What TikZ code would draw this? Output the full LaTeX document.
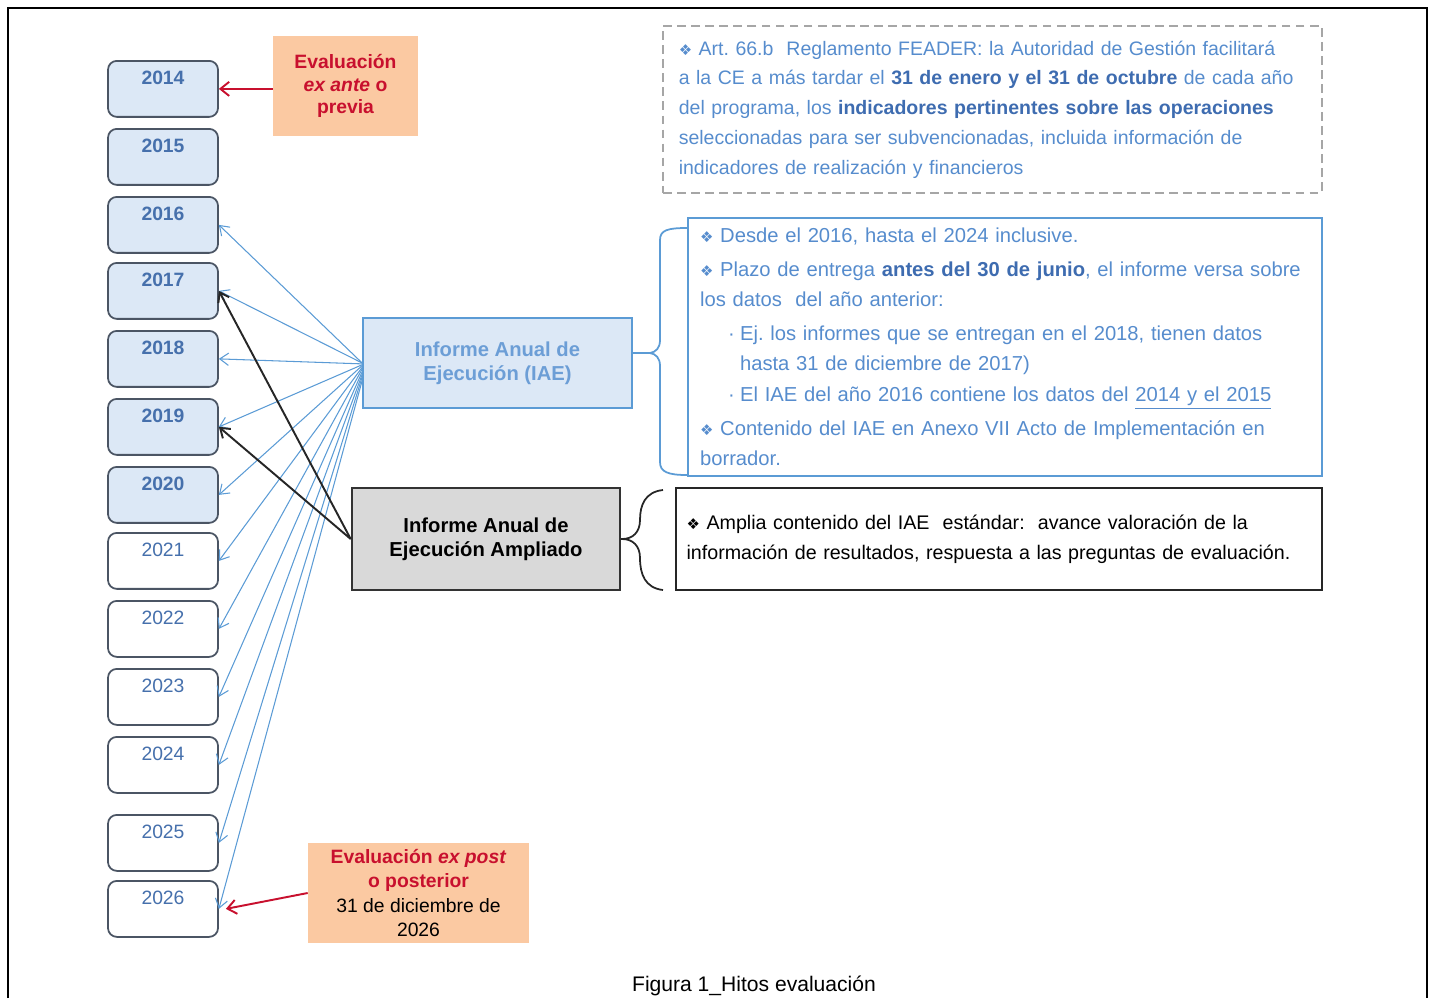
\documentclass[tikz,border=0pt]{standalone}
\usepackage{fontspec}
\setmainfont{Liberation Sans}
\newfontfamily\symfont{DejaVu Sans}
\usepackage{tikz}
\usetikzlibrary{arrows.meta, calc}
\definecolor{hitoFill}{RGB}{220,232,246}
\definecolor{hitoDraw}{RGB}{75,85,100}
\definecolor{hitoText}{RGB}{70,112,172}
\definecolor{iaeBlue}{RGB}{91,155,213}
\definecolor{iaeText}{RGB}{108,158,214}
\definecolor{notaBlue}{RGB}{86,140,205}
\definecolor{notaBold}{RGB}{62,108,176}
\definecolor{evalFill}{RGB}{251,201,162}
\definecolor{evalRed}{RGB}{200,16,46}
\definecolor{ampFill}{RGB}{217,217,217}
\newcommand{\diam}{{\symfont\fontsize{8.5}{8.5}\selectfont\char"2756}}
\frenchspacing

\begin{document}
\begin{tikzpicture}[x=0.02cm, y=-0.02cm,
  every node/.style={inner sep=0pt, font=\fontsize{11.5}{17}\selectfont},
  hito/.style={draw=hitoDraw, line width=1pt, rounded corners=5pt, anchor=north,
    minimum width=2.2cm, text height=0.48cm, text depth=0.64cm, text=hitoText},
  hitoOn/.style={fill=hitoFill, font=\fontsize{11}{13}\selectfont\bfseries},
  evalbox/.style={fill=evalFill, minimum width=2.9cm, minimum height=2cm, align=center,
    text=evalRed, font=\fontsize{11}{12.6}\selectfont\bfseries},
  nota/.style={align=left, inner xsep=0.24cm, text=notaBlue},
  toHito/.style={draw=iaeBlue, line width=0.6pt, -{Straight Barb[length=5pt, width=7pt]}},
  toAmp/.style={draw=black!85, line width=1.1pt, -{Straight Barb[length=5pt, width=7pt]}},
  toEval/.style={draw=evalRed, line width=1.1pt, -{Straight Barb[length=5pt, width=8pt]}}]
  \useasboundingbox (0,0) rectangle (1430,998);
  \draw[line width=1.5pt] (8,998) -- (8,8) -- (1427,8) -- (1427,998);

  % years
  \foreach \yr/\ytop in {2014/60, 2015/128, 2016/196, 2017/262, 2018/330, 2019/398, 2020/466}
    \node[hito, hitoOn] (y\yr) at (163,\ytop) {\yr};
  \foreach \yr/\ytop in {2021/532, 2022/600, 2023/668, 2024/736, 2025/814, 2026/880}
    \node[hito, font=\fontsize{11}{13}\selectfont] (y\yr) at (163,\ytop) {\yr};

  \node[evalbox] (exante) at (345.5,86) {Evaluación\\\textit{ex ante} o\\previa};
  \node[evalbox, minimum width=4.42cm, font=\fontsize{11}{13.7}\selectfont] (expost) at (418.5,893)
    {\textbf{Evaluación \textit{ex post}}\\\textbf{o posterior}\\\textcolor{black}{31 de diciembre de}\\\textcolor{black}{2026}};

  \node[draw=iaeBlue, line width=1pt, fill=hitoFill, minimum width=5.38cm, minimum height=1.8cm,
    align=center, text=iaeText, font=\fontsize{11.5}{13.7}\selectfont\bfseries] (iae) at (497.5,363)
    {Informe Anual de\\Ejecución (IAE)};
  \node[draw=black!80, line width=1.5pt, fill=ampFill, minimum width=5.36cm, minimum height=2.04cm,
    align=center, font=\fontsize{11.5}{13.7}\selectfont\bfseries] (amp) at (486,539)
    {Informe Anual de\\Ejecución Ampliado};

  % notes on the right
  \node[nota, draw=gray!70, dash pattern=on 5pt off 3pt, line width=0.8pt, inner xsep=0.3cm,
    minimum width=13.18cm, minimum height=3.34cm, text width=12.55cm,
    font=\fontsize{11.1}{16.9}\selectfont] (art) at (992.5,109.5)
    {\diam\ Art. 66.b\ \ Reglamento FEADER: la Autoridad de Gestión facilitará\\
     a la CE a más tardar el \textcolor{notaBold}{\textbf{31 de enero y el 31 de octubre}} de cada año\\
     del programa, los \textcolor{notaBold}{\textbf{indicadores pertinentes sobre las operaciones}}\\
     seleccionadas para ser subvencionadas, incluida información de\\
     indicadores de realización y financieros};
  \node[nota, draw=iaeBlue, line width=1pt, minimum width=12.68cm, minimum height=5.16cm,
    text width=12.2cm] (iaeNotas) at (1005,347)
    {\diam\ Desde el 2016, hasta el 2024 inclusive.\\[2.3pt]
     \diam\ Plazo de entrega \textcolor{notaBold}{\textbf{antes del 30 de junio}}, el informe versa sobre\\
     los datos\ \ del año anterior:\\[2.3pt]
     \hspace*{0.56cm}\makebox[0.24cm][l]{·}Ej. los informes que se entregan en el 2018, tienen datos\\
     \hspace*{0.8cm}hasta 31 de diciembre de 2017)\\[1pt]
     \hspace*{0.56cm}\makebox[0.24cm][l]{·}El IAE del año 2016 contiene los datos del \underline{2014 y el 2015}\\[2.3pt]
     \diam\ Contenido del IAE en Anexo VII Acto de Implementación en\\
     borrador.};
  \node[nota, text=black, draw=black!85, line width=1.5pt, inner xsep=0.2cm, minimum width=12.92cm,
    minimum height=2.04cm, text width=12.5cm, font=\fontsize{11.2}{17}\selectfont] (ampNotas) at (999,539)
    {\diam\ Amplia contenido del IAE\ \ estándar:\ \ avance valoración de la\\
     información de resultados, respuesta a las preguntas de evaluación.};

  % braces
  \draw[iaeBlue, line width=1pt] ([yshift=0.2cm]iae.east) -- (650,353);
  \draw[iaeBlue, line width=1pt] (687,228) .. controls (668,228) and (660,230) .. (660,240) -- (660,340)
    .. controls (660,348) and (656,352) .. (650,353) .. controls (656,354) and (660,358) .. (660,366)
    -- (660,462) .. controls (660,472) and (668,475) .. (687,475);
  \draw[black!85, line width=1pt] (amp.east) -- (622,539);
  \draw[black!85, line width=1pt] (663,490) .. controls (645,492) and (640,505) .. (640,520)
    .. controls (640,532) and (633,539) .. (622,539) .. controls (633,539) and (640,546) .. (640,558)
    .. controls (640,574) and (645,588) .. (663,590);

  % connectors
  \foreach \yr/\dy in {2016/0, 2017/0, 2018/0.5, 2019/1, 2020/1.5, 2021/2.5, 2022/3.5, 2023/5, 2024/6.5, 2025/8, 2026/10}
    \draw[toHito] ([yshift=-\dy pt]iae.west) -- (y\yr.east);
  \draw[toAmp] (amp.west) -- (y2017.east);
  \draw[toAmp] (amp.west) -- (y2019.east);
  \draw[toEval] (exante.west |- y2014.east) -- (y2014.east);
  \draw[toEval] (expost.west) -- ([xshift=4pt]y2026.east);

  \node[font=\fontsize{12}{14}\selectfont] (caption) at (754,986) {Figura 1\_Hitos evaluación};
\end{tikzpicture}
\end{document}
